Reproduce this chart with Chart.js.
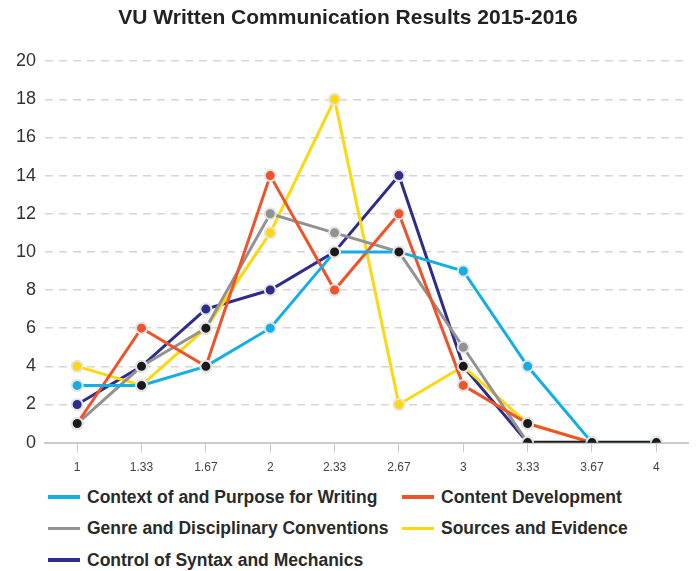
<!DOCTYPE html>
<html>
<head>
<meta charset="utf-8">
<script src="https://cdn.jsdelivr.net/npm/chart.js@4.4.1/dist/chart.umd.min.js"></script>
<style>
  body { margin: 0; background: #fff; font-family: "Liberation Sans", Arial, sans-serif; }
  #wrap { position: relative; width: 696px; height: 571px; }
  #chartBox { position: absolute; left: 0; top: 0; width: 696px; height: 483px; }
  #legend { position: absolute; left: 0; top: 487px; width: 696px; }
  .item { position: absolute; display: flex; align-items: center; height: 20px; font-weight: bold; font-size: 17.5px; color: #2a2a2a; white-space: nowrap; }
  .swatch { width: 32px; height: 3.5px; margin-right: 7px; }
</style>
</head>
<body>
<div id="wrap">
  <div id="chartBox"><canvas id="chart"></canvas></div>
  <div id="legend"></div>
</div>
<script>
const scores = ["1", "1.33", "1.67", "2", "2.33", "2.67", "3", "3.33", "3.67", "4"];

const contextWriting = [3, 3, 4, 6, 10, 10, 9, 4, 0, 0];
const contentDevelopment = [1, 6, 4, 14, 8, 12, 3, 1, 0, 0];
const genreConventions = [1, 4, 6, 12, 11, 10, 5, 0, 0, 0];
const sourcesEvidence = [4, 3, 6, 11, 18, 2, 4, 1, 0, 0];
const syntaxMechanics = [2, 4, 7, 8, 10, 14, 4, 0, 0, 0];

const yTicks = [0, 2, 4, 6, 8, 10, 12, 14, 16, 18, 20];

const series = [
    { label: "Context of and Purpose for Writing", data: contextWriting, color: "#12aee8" },
    { label: "Content Development", data: contentDevelopment, color: "#f0522a" },
    { label: "Genre and Disciplinary Conventions", data: genreConventions, color: "#929292" },
    { label: "Sources and Evidence", data: sourcesEvidence, color: "#fdd80c" },
    { label: "Control of Syntax and Mechanics", data: syntaxMechanics, color: "#2e2c8c" }
];

// points shared by two or more series are marked in black
function findOverlaps() {
    const points = [];
    scores.forEach((s, i) => {
        const counts = {};
        series.forEach(ser => {
            const v = ser.data[i];
            counts[v] = (counts[v] || 0) + 1;
        });
        for (let v in counts) {
            if (counts[v] > 1) points.push({ x: s, y: Number(v) });
        }
    });
    return points;
}

// segments where two or more series run on top of each other
function findSharedSegments() {
    const line = scores.map(() => null);
    for (let i = 0; i < scores.length - 1; i++) {
        const seen = {};
        series.forEach(ser => {
            const key = ser.data[i] + "_" + ser.data[i + 1];
            seen[key] = (seen[key] || 0) + 1;
        });
        for (let key in seen) {
            const [a, b] = key.split("_").map(Number);
            if (seen[key] > 1 && a === b) {
                line[i] = a;
                line[i + 1] = b;
            }
        }
    }
    return line;
}

const datasets = [
    {
        label: "overlap",
        data: findOverlaps(),
        showLine: false,
        pointRadius: 5.5,
        pointBackgroundColor: "#1a1a1a",
        pointBorderColor: "#e4e4e4",
        pointBorderWidth: 2,
        order: 0
    },
    {
        label: "shared",
        data: findSharedSegments(),
        borderColor: "#1a1a1a",
        borderWidth: 3.5,
        pointRadius: 0,
        spanGaps: false,
        order: 1
    }
];

series.forEach((ser, i) => {
    datasets.push({
        label: ser.label,
        data: ser.data,
        borderColor: ser.color,
        backgroundColor: ser.color,
        borderWidth: 3,
        tension: 0,
        pointRadius: 5.5,
        pointBackgroundColor: ser.color,
        pointBorderColor: "#e4e4e4",
        pointBorderWidth: 2,
        order: 2 + i
    });
});

new Chart(document.getElementById("chart"), {
    type: "line",
    data: { labels: scores, datasets: datasets },
    options: {
        responsive: true,
        maintainAspectRatio: false,
        animation: false,
        layout: { padding: { left: 0, right: 0, top: 0, bottom: 0 } },
        plugins: {
            legend: { display: false }, // custom HTML legend below
            tooltip: { enabled: false },
            title: {
                display: true,
                text: "VU Written Communication Results 2015-2016",
                color: "#222",
                font: { family: "Liberation Sans", size: 21, weight: "bold" },
                padding: { top: 6, bottom: 30 }
            }
        },
        scales: {
            x: {
                offset: true,
                grid: { display: true, drawOnChartArea: false, drawTicks: true, tickLength: 10, color: "#cccccc", offset: false },
                border: { display: true, color: "#cccccc", width: 2 },
                ticks: { color: "#444", font: { family: "Liberation Sans Narrow, Liberation Sans", size: 12 }, padding: 8, maxRotation: 0 }
            },
            y: {
                min: 0,
                max: 20,
                afterBuildTicks: axis => { axis.ticks = yTicks.map(v => ({ value: v })); },
                afterFit: axis => { axis.width = 45; },
                grid: { color: "#d6d6d6", lineWidth: 1.5, drawTicks: false },
                border: { display: false, dash: [8, 6] },
                ticks: { color: "#333", font: { family: "Liberation Sans", size: 18 }, padding: 9 }
            }
        }
    }
});

// legend: two fixed columns like the original
const legend = document.getElementById("legend");
series.forEach((ser, i) => {
    const item = document.createElement("div");
    item.className = "item";
    item.style.left = (i % 2 === 0 ? 48 : 402) + "px";
    item.style.top = (Math.floor(i / 2) * 31.5) + "px";
    const sw = document.createElement("span");
    sw.className = "swatch";
    sw.style.background = ser.color;
    const txt = document.createElement("span");
    txt.textContent = ser.label;
    item.appendChild(sw);
    item.appendChild(txt);
    legend.appendChild(item);
});
</script>
</body>
</html>
